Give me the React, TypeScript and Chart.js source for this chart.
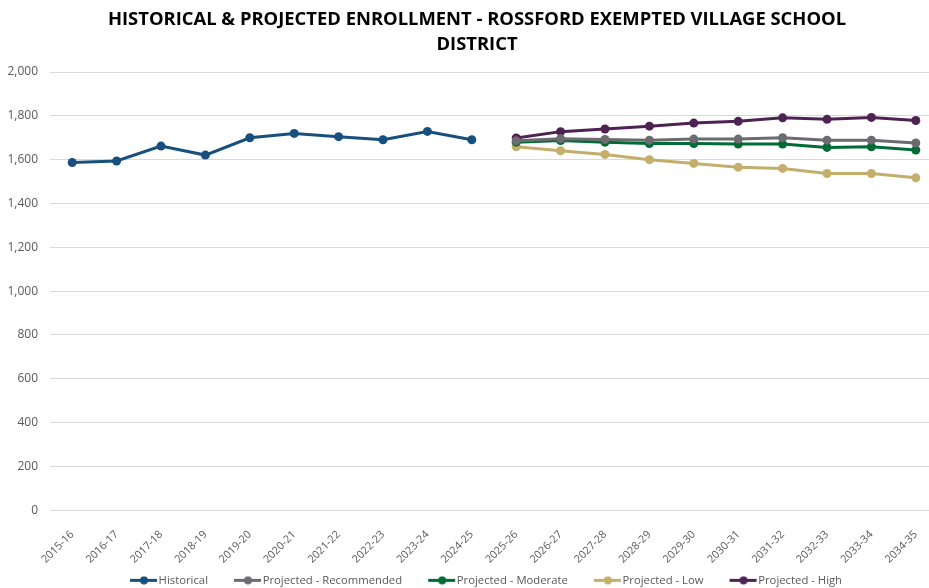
import React, { useEffect, useRef } from "react";
import { Chart, registerables } from "chart.js";

Chart.register(...registerables);

const categories = [
  "2015-16", "2016-17", "2017-18", "2018-19", "2019-20", "2020-21", "2021-22", "2022-23", "2023-24", "2024-25",
  "2025-26", "2026-27", "2027-28", "2028-29", "2029-30", "2030-31", "2031-32", "2032-33", "2033-34", "2034-35",
];

const historical = [1587, 1594, 1662, 1621, 1700, 1720, 1705, 1691, 1729, 1691,
  null, null, null, null, null, null, null, null, null, null];
const recommended = [null, null, null, null, null, null, null, null, null, null,
  1686, 1696, 1692, 1689, 1694, 1694, 1700, 1689, 1689, 1676];
const moderate = [null, null, null, null, null, null, null, null, null, null,
  1680, 1687, 1680, 1674, 1674, 1671, 1671, 1656, 1659, 1644];
const low = [null, null, null, null, null, null, null, null, null, null,
  1659, 1641, 1624, 1600, 1583, 1566, 1560, 1537, 1537, 1517];
const high = [null, null, null, null, null, null, null, null, null, null,
  1699, 1728, 1740, 1753, 1767, 1775, 1791, 1784, 1793, 1779];

const seriesNames = ["Historical", "Projected - Recommended", "Projected - Moderate", "Projected - Low", "Projected - High"];
const seriesColors = ["#17507F", "#6B6B70", "#006B35", "#C4AE6C", "#4E2353"];

const titleLines = ["HISTORICAL & PROJECTED ENROLLMENT - ROSSFORD EXEMPTED VILLAGE SCHOOL", "DISTRICT"];

const ICON_BOX = 41;
const ICON_W = ICON_BOX + 10;

function makeLegendIcon(color: string) {
  const c = document.createElement("canvas");
  c.width = ICON_W;
  c.height = 9;
  const ctx = c.getContext("2d")!;
  const x0 = ICON_W - 28;
  ctx.strokeStyle = color;
  ctx.lineWidth = 3;
  ctx.beginPath();
  ctx.moveTo(x0, 4.5);
  ctx.lineTo(ICON_W - 1, 4.5);
  ctx.stroke();
  ctx.fillStyle = color;
  ctx.beginPath();
  ctx.arc(x0 + 14, 4.5, 4, 0, Math.PI * 2);
  ctx.fill();
  return c;
}

export default function App() {
  const ref = useRef<HTMLCanvasElement>(null);
  useEffect(() => {
    const values = [historical, recommended, moderate, low, high];
    const icons = seriesColors.map((c) => makeLegendIcon(c));
    const chart = new Chart(ref.current!, {
      type: "line",
      data: {
        labels: categories,
        datasets: values.map((v, i) => ({
          label: seriesNames[i],
          data: v,
          borderColor: seriesColors[i],
          backgroundColor: seriesColors[i],
          borderWidth: 3,
          pointRadius: 4.5,
          pointHoverRadius: 4.5,
          pointBorderWidth: 0,
          spanGaps: false,
          tension: 0,
        })),
      },
      options: {
        animation: false,
        responsive: false,
        maintainAspectRatio: false,
        layout: { padding: { left: 0, right: 0, top: 5, bottom: 0 } },
        plugins: {
          tooltip: { enabled: false },
          title: {
            display: true,
            text: titleLines,
            color: "#000000",
            font: { family: "'Open Sans', sans-serif", size: 18.4, weight: "bold", lineHeight: 1.36 },
            padding: { top: 2, bottom: 15 },
          },
          legend: {
            position: "bottom",
            labels: {
              usePointStyle: true,
              pointStyleWidth: ICON_BOX,
              color: "#595959",
              font: { family: "'Open Sans', sans-serif", size: 11.3 },
              padding: 8,
              generateLabels: (ch) =>
                ch.data.datasets.map((d, i) => ({
                  text: d.label as string,
                  fillStyle: seriesColors[i],
                  strokeStyle: seriesColors[i],
                  lineWidth: 0,
                  pointStyle: icons[i] as any,
                  hidden: false,
                  datasetIndex: i,
                  fontColor: "#595959",
                })),
            },
          },
        },
        scales: {
          x: {
            offset: true,
            grid: { display: false },
            border: { display: false },
            afterFit: (axis: any) => {
              axis.height = 56.5;
            },
            ticks: {
              color: "#595959",
              font: { family: "'Open Sans', sans-serif", size: 10.8 },
              maxRotation: 45,
              minRotation: 45,
              autoSkip: false,
              padding: 10,
            },
          },
          y: {
            min: 0,
            max: 2000,
            grid: { color: "#D9D9D9", drawTicks: false },
            border: { display: false },
            afterFit: (axis: any) => {
              axis.width = 50;
            },
            ticks: {
              stepSize: 200,
              color: "#595959",
              font: { family: "'Open Sans', sans-serif", size: 12 },
              padding: 12,
              callback: (v) => Number(v).toLocaleString("en-US"),
            },
          },
          ySpacer: {
            type: "linear",
            position: "right",
            display: true,
            grid: { display: false },
            border: { display: false },
            ticks: { display: false },
            afterFit: (axis: any) => {
              axis.width = 16;
            },
          },
        },
      },
    });
    return () => chart.destroy();
  }, []);
  return (
    <div style={{ position: "absolute", left: 0, top: 0, width: 929, height: 588, overflow: "hidden", background: "#fff" }}>
      <canvas ref={ref} width={954} height={596} style={{ width: 954, height: 596, display: "block" }} />
    </div>
  );
}
